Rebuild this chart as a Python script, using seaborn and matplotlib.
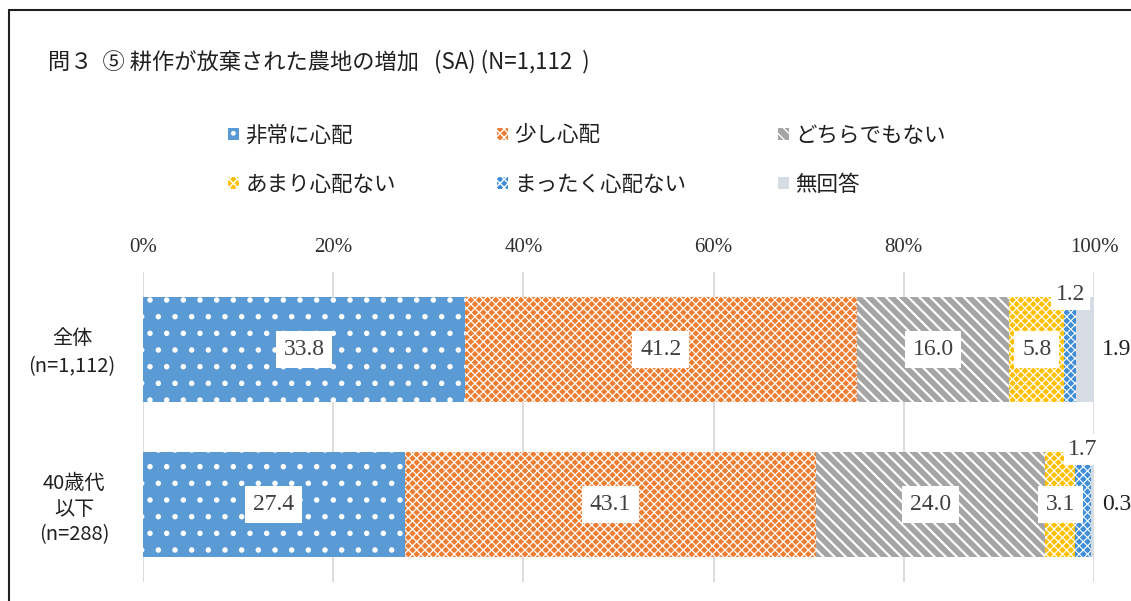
import numpy as np
import pandas as pd
import matplotlib
matplotlib.use("Agg")
import matplotlib.pyplot as plt
import seaborn as sns
from matplotlib.patches import Patch
from matplotlib.lines import Line2D
from matplotlib.transforms import blended_transform_factory

# ---------------- data ----------------
title = "問３  ⑤ 耕作が放棄された農地の増加   (SA) (N=1,112  )"
groups = ["全体\n(n=1,112)", "40歳代\n以下\n(n=288)"]
series = ["非常に心配", "少し心配", "どちらでもない", "あまり心配ない", "まったく心配ない", "無回答"]
v_hijou = [33.8, 27.4]
v_sukoshi = [41.2, 43.1]
v_dochira = [16.0, 24.0]
v_amari = [5.8, 3.1]
v_mattaku = [1.2, 1.7]
v_mukaitou = [1.9, 0.3]
tick_values = [0, 20, 40, 60, 80, 100]
tick_labels = ["0%", "20%", "40%", "60%", "80%", "100%"]

values = [v_hijou, v_sukoshi, v_dochira, v_amari, v_mattaku, v_mukaitou]

# ---------------- style ----------------
sns.set_theme(style="white")
CJK = ["Noto Sans CJK JP", "DejaVu Sans"]
plt.rcParams["font.family"] = CJK
SERIF = "Liberation Serif"

colors = ["#5B9BD5", "#ED7D31", "#A5A5A5", "#FFC000", "#3E8DD6", "#D6DCE4"]
hatches = [".", "xxxx", "\\\\\\", "xxxx", "xxxx", None]
hatch_lw = [1.5, 0.9, 1.6, 0.9, 0.8, 0.5]

# long table with normalized cumulative widths (100% stacked)
rows = []
for gi, g in enumerate(groups):
    tot = sum(v[gi] for v in values)
    cum = 0.0
    for si, s in enumerate(series):
        val = values[si][gi]
        start = cum
        cum += val / tot * 100
        rows.append(dict(group=g, series=s, value=val, start=start, end=cum))
df = pd.DataFrame(rows)

W, H = 1131, 601
fig = plt.figure(figsize=(W / 100, H / 100), dpi=100)
ax = fig.add_axes([143 / W, 1 - 582 / H, (1094 - 143) / W, (582 - 272) / H])

# draw stacked bars: largest cumulative first
for si in reversed(range(len(series))):
    sub = df[df.series == series[si]]
    n0 = len(ax.patches)
    with plt.rc_context({"hatch.linewidth": hatch_lw[si]}):
        sns.barplot(data=sub, x="end", y="group", order=groups, orient="h",
                    color=colors[si], saturation=1, width=0.675,
                    errorbar=None, ax=ax)
        for p in ax.patches[n0:]:
            p.set_linewidth(0)
            if hatches[si]:
                p.set_hatch(hatches[si])
                p.set_edgecolor("white")
                if hasattr(p, "set_hatch_linewidth"):
                    p.set_hatch_linewidth(hatch_lw[si])
            else:
                p.set_edgecolor(colors[si])

ax.set_xlim(0, 100)
ax.set_ylim(1.5, -0.5)
ax.set_xlabel("")
ax.set_ylabel("")
ax.xaxis.tick_top()
ax.set_xticks(tick_values)
ax.set_xticklabels(tick_labels, fontfamily=SERIF, fontsize=15, color="#303030")
ax.tick_params(axis="x", length=0, pad=11)
ax.tick_params(axis="y", left=False, labelleft=False)
ax.grid(axis="x", color="#D9D9D9", linewidth=1.3)
ax.grid(axis="y", visible=False)
ax.set_axisbelow(True)
for sp in ax.spines.values():
    sp.set_visible(False)

# value labels
for gi, g in enumerate(groups):
    sub = df[df.group == g].reset_index(drop=True)
    for si in range(len(series)):
        r = sub.iloc[si]
        mid = (r.start + r.end) / 2
        txt = f"{r.value:.1f}"
        if si <= 3:
            ax.text(mid, gi, txt, ha="center", va="center", fontfamily=SERIF,
                    fontsize=17, color="#404040",
                    bbox=dict(boxstyle="square,pad=0.33", fc="white", ec="none"))
        elif si == 4:
            ax.text(mid, gi - 0.355, txt, ha="center", va="center", fontfamily=SERIF,
                    fontsize=17, color="#404040",
                    bbox=dict(boxstyle="square,pad=0.2", fc="white", ec="none"))
        else:
            ax.text(100.85, gi, txt, ha="left", va="center", fontfamily=SERIF,
                    fontsize=17, color="#202020")

# category labels
tr = blended_transform_factory(fig.transFigure, ax.transData)
ax.text(72 / W, 0.02, groups[0], transform=tr, ha="center", va="center",
        fontsize=14.5, linespacing=1.5, color="#202020")
ax.text(74 / W, 1.03, groups[1], transform=tr, ha="center", va="center",
        fontsize=14.5, linespacing=1.3, color="#202020")

# title
fig.text(48 / W, 1 - 62 / H, title, ha="left", va="center", fontsize=16, color="#202020")

# legend (three columns placed like the original)
col_x = [228, 497, 778]
for c in range(3):
    hs = [Patch(facecolor=colors[i], edgecolor="white", hatch=hatches[i], linewidth=0)
          for i in (c, c + 3)]
    fig.legend(hs, [series[c], series[c + 3]], loc="upper left",
               bbox_to_anchor=(col_x[c] / W, 1 - 125 / H), frameon=False,
               borderpad=0, borderaxespad=0, handlelength=0.5, handleheight=0.5,
               handletextpad=0.3, labelspacing=1.25, fontsize=15.5,
               labelcolor="#202020")

# outer border (partially visible)
fig.add_artist(Line2D([8.5 / W, 1.0], [1 - 9.5 / H, 1 - 9.5 / H], color="#202020",
                      linewidth=1.5, transform=fig.transFigure))
fig.add_artist(Line2D([8.5 / W, 8.5 / W], [0, 1 - 9.5 / H], color="#202020",
                      linewidth=1.5, transform=fig.transFigure))

fig.savefig("out.png", dpi=100, facecolor="white")
